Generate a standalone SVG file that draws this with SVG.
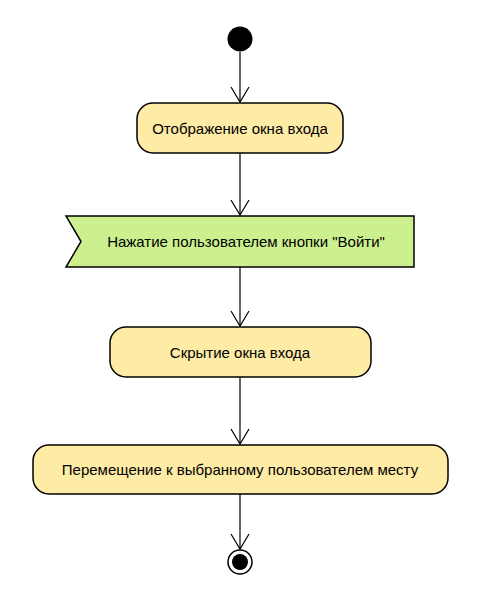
<svg xmlns="http://www.w3.org/2000/svg" width="488" height="602" viewBox="0 0 488 602">
  <defs>
    <style>
      .action { fill: #feeba6; stroke: #000; stroke-width: 1.5; }
      .signal { fill: #ccf08e; stroke: #000; stroke-width: 1.5; }
      .label { font-family: "Liberation Sans", Arial, sans-serif; font-size: 15px; fill: #000; text-anchor: middle; dominant-baseline: central; }
      .flow { fill: none; stroke: #000; stroke-width: 1.2; marker-end: url(#open); }
    </style>
    <!-- open V arrowhead, drawn along +x so orient="auto" follows the line -->
    <marker id="open" viewBox="0 0 20 20" refX="16" refY="10" markerWidth="20" markerHeight="20" markerUnits="userSpaceOnUse" orient="auto">
      <path d="M1,1 L16,10 L1,19" fill="none" stroke="#000" stroke-width="1.2"/>
    </marker>
  </defs>
  <rect width="488" height="602" fill="#fff"/>

  <g id="connectors">
    <line class="flow" x1="240" y1="52" x2="240" y2="102"/>
    <line class="flow" x1="240" y1="153" x2="240" y2="215"/>
    <line class="flow" x1="240" y1="267" x2="240" y2="326"/>
    <line class="flow" x1="240" y1="377" x2="240" y2="444"/>
    <line class="flow" x1="240" y1="494" x2="240" y2="549"/>
  </g>

  <g id="start">
    <circle cx="240" cy="39" r="12.5" fill="#000"/>
  </g>

  <g id="show-login">
    <rect class="action" x="137" y="103" width="206" height="50" rx="16"/>
    <text class="label" x="240" y="128">Отображение окна входа</text>
  </g>

  <g id="login-click">
    <polygon class="signal" points="66,216 414,216 414,267 66,267 81,241.5"/>
    <text class="label" x="246" y="241.5">Нажатие пользователем кнопки "Войти"</text>
  </g>

  <g id="hide-login">
    <rect class="action" x="110" y="327" width="261" height="50" rx="16"/>
    <text class="label" x="240" y="352">Скрытие окна входа</text>
  </g>

  <g id="move-to-place">
    <rect class="action" x="33" y="445" width="415" height="49" rx="16"/>
    <text class="label" x="240" y="469.5">Перемещение к выбранному пользователем месту</text>
  </g>

  <g id="end">
    <circle cx="240" cy="562" r="12" fill="#fff" stroke="#000" stroke-width="1.5"/>
    <circle cx="240" cy="562" r="8" fill="#000"/>
  </g>
</svg>
